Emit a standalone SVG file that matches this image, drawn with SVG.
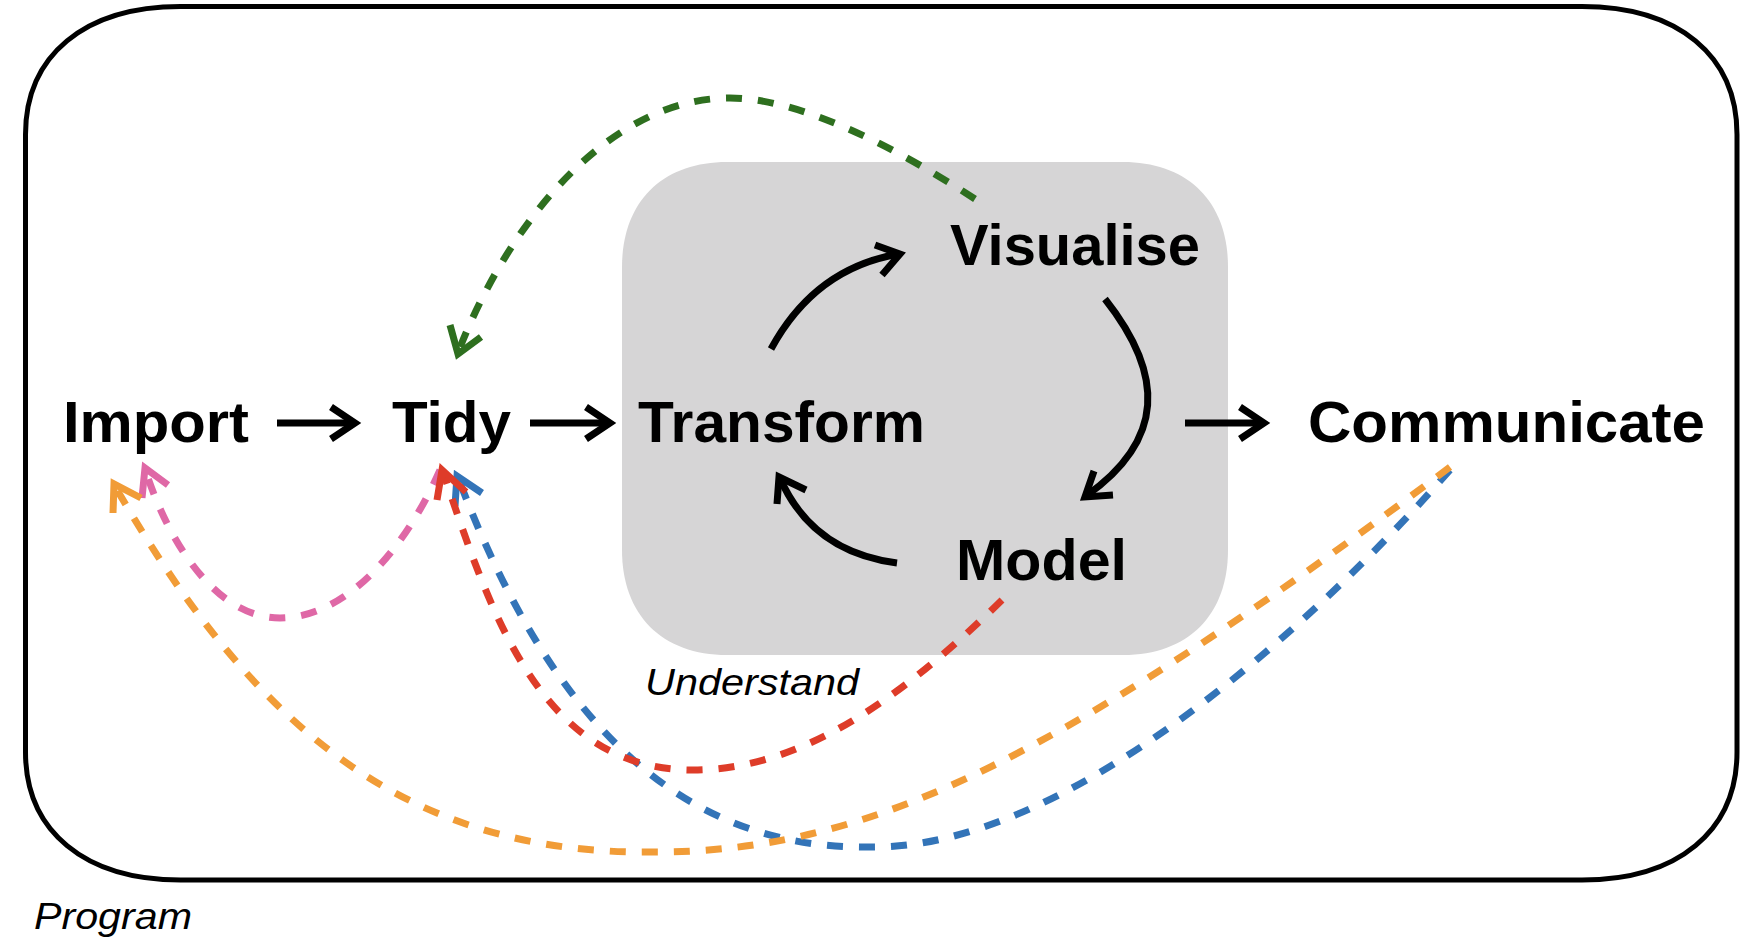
<svg xmlns="http://www.w3.org/2000/svg" width="1750" height="945" viewBox="0 0 1750 945">
  <style>
    .bg { fill: #ffffff; }
    .program { fill: none; stroke: #000000; stroke-width: 5; }
    .understand { fill: #d6d5d6; stroke: none; }
    .label { font-family: "Liberation Sans", Arial, Helvetica, sans-serif; font-weight: bold; font-size: 58px; fill: #000000; }
    .region-label { font-family: "Liberation Sans", Arial, Helvetica, sans-serif; font-style: italic; font-size: 37px; fill: #000000; }
    .solid { fill: none; stroke: #000000; stroke-width: 7; stroke-linecap: butt; stroke-linejoin: miter; }
    .dash { fill: none; stroke-width: 7; stroke-dasharray: 16 16; stroke-linecap: butt; }
    .head { fill: none; stroke-width: 7; stroke-linecap: butt; stroke-linejoin: miter; }
    .green { stroke: #2e6f1f; }
    .pink { stroke: #df68a6; }
    .orange { stroke: #f19c37; }
    .blue { stroke: #3374b8; }
    .red { stroke: #de3c29; }
  </style>
  <rect class="bg" x="0" y="0" width="1750" height="945"/>

  <g id="program">
    <path class="program" d="M180.5,6.5 H1582 C1678,6.5 1737,55.5 1737,134.5 V752 C1737,831 1678,880 1582,880 H180.5 C84.5,880 25.5,831 25.5,752 V134.5 C25.5,55.5 84.5,6.5 180.5,6.5 Z"/>
    <text class="region-label" x="34" y="929" textLength="158" lengthAdjust="spacingAndGlyphs">Program</text>
  </g>

  <g id="understand">
    <path class="understand" d="M727,162 H1123 C1188,162 1228,202 1228,267 V550 C1228,615 1188,655 1123,655 H727 C662,655 622,615 622,550 V267 C622,202 662,162 727,162 Z"/>
    <text class="region-label" x="645" y="695" textLength="214" lengthAdjust="spacingAndGlyphs">Understand</text>
  </g>

  <g id="node-import">
    <text class="label" x="63" y="442" textLength="186" lengthAdjust="spacingAndGlyphs">Import</text>
  </g>
  <g id="node-tidy">
    <text class="label" x="392" y="442" textLength="119" lengthAdjust="spacingAndGlyphs">Tidy</text>
  </g>
  <g id="node-transform">
    <text class="label" x="638" y="442" textLength="287" lengthAdjust="spacingAndGlyphs">Transform</text>
  </g>
  <g id="node-visualise">
    <text class="label" x="950" y="265" textLength="250" lengthAdjust="spacingAndGlyphs">Visualise</text>
  </g>
  <g id="node-model">
    <text class="label" x="956" y="580" textLength="171" lengthAdjust="spacingAndGlyphs">Model</text>
  </g>
  <g id="node-communicate">
    <text class="label" x="1308" y="442" textLength="397" lengthAdjust="spacingAndGlyphs">Communicate</text>
  </g>

  <g id="connectors">
    <!-- main flow -->
    <path class="solid" d="M277,423 H354"/>
    <polyline class="solid" points="331,407 355,423 331,439"/>
    <path class="solid" d="M530,423 H609"/>
    <polyline class="solid" points="586,407 610,423 586,439"/>
    <path class="solid" d="M1185,423 H1263"/>
    <polyline class="solid" points="1240,407 1264,423 1240,439"/>

    <!-- understand cycle -->
    <path class="solid" d="M771,349 Q815,268 899,254"/>
    <polyline class="solid" points="875,245 900,254 882,275"/>
    <path class="solid" d="M1105,299 C1165,375 1165,440 1086,496"/>
    <polyline class="solid" points="1094,471 1085,497 1113,495"/>
    <path class="solid" d="M897,563 Q812,552 780,478"/>
    <polyline class="solid" points="777,504 779,477 806,490"/>

    <!-- feedback loops -->
    <path class="dash pink" d="M440,470 C400,560 340,618 280,618 C215,618 168,540 146,472"/>
    <polyline class="head pink" points="142,498 145,468 168,485"/>

    <path class="dash blue" d="M1450,470 C1300,640 1060,850 870,847 C680,850 550,720 459,480"/>
    <polyline class="head blue" points="455,506 457,476 482,493"/>

    <path class="dash red" d="M1002,600 C900,700 800,770 693,770 C540,770 490,610 444,475"/>
    <polyline class="head red" points="437,500 442,470 466,492"/>

    <path class="dash orange" d="M1450,467 C1034,779 853,852 653,852 C400,855 250,720 116,488"/>
    <polyline class="head orange" points="113,513 114,484 141,498"/>

    <path class="dash green" d="M975,199 C920,163 810,98 730,98 C610,98 510,220 459,350"/>
    <polyline class="head green" points="450,325 458,354 481,337"/>
  </g>
</svg>
